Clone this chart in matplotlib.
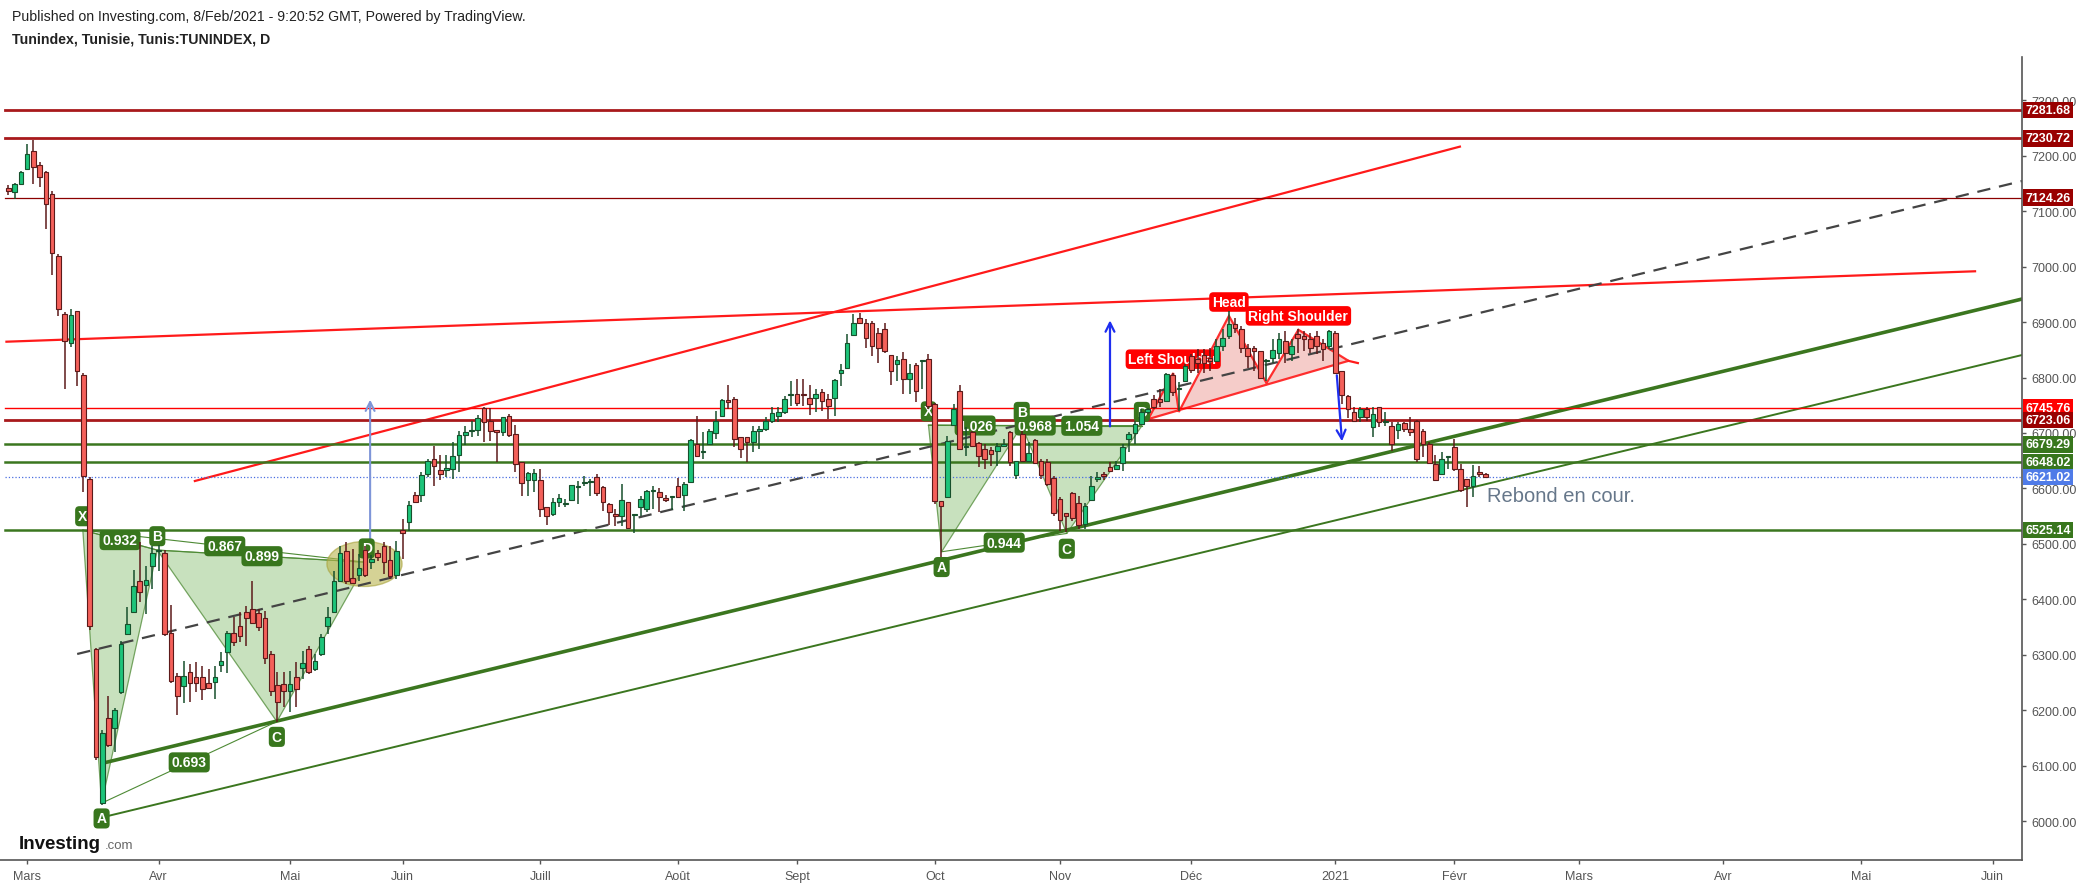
import pandas as pd
import matplotlib
matplotlib.use('Agg')
from matplotlib import pyplot as plt
from matplotlib.patches import Ellipse, Polygon

plt.rcParams['font.family'] = ['Liberation Sans', 'DejaVu Sans']

# bougies journalieres du Tunindex (26 fev 2020 -> 8 fev 2021)
opens = [7142, 7134, 7148, 7176, 7208, 7182, 7170, 7130, 7019, 6915,
         6863, 6919, 6805, 6618, 6311, 6033, 6186, 6168, 6234, 6338,
         6378, 6433, 6427, 6461, 6487, 6483, 6339, 6263, 6245, 6269,
         6260, 6260, 6249, 6251, 6282, 6305, 6339, 6353, 6378, 6383,
         6376, 6366, 6302, 6246, 6248, 6236, 6260, 6276, 6311, 6274,
         6301, 6352, 6378, 6433, 6487, 6438, 6444, 6490, 6467, 6483,
         6497, 6471, 6444, 6525, 6540, 6589, 6589, 6627, 6654, 6634,
         6634, 6636, 6661, 6697, 6704, 6706, 6745, 6721, 6705, 6701,
         6730, 6699, 6647, 6616, 6616, 6616, 6566, 6554, 6575, 6572,
         6579, 6603, 6610, 6611, 6621, 6602, 6572, 6554, 6550, 6575,
         6552, 6566, 6563, 6595, 6594, 6583, 6584, 6604, 6589, 6611,
         6681, 6665, 6681, 6700, 6730, 6759, 6761, 6693, 6693, 6683,
         6704, 6707, 6722, 6731, 6738, 6769, 6771, 6769, 6763, 6763,
         6773, 6761, 6763, 6809, 6817, 6876, 6908, 6898, 6898, 6881,
         6887, 6841, 6824, 6833, 6797, 6822, 6830, 6833, 6752, 6577,
         6584, 6714, 6776, 6674, 6702, 6682, 6672, 6669, 6668, 6677,
         6702, 6625, 6699, 6650, 6688, 6650, 6647, 6619, 6581, 6555,
         6592, 6573, 6536, 6579, 6617, 6626, 6638, 6636, 6646, 6689,
         6700, 6716, 6738, 6762, 6761, 6758, 6804, 6780, 6793, 6838,
         6833, 6841, 6835, 6830, 6857, 6874, 6896, 6887, 6854, 6854,
         6847, 6829, 6836, 6845, 6866, 6842, 6878, 6875, 6869, 6874,
         6862, 6856, 6881, 6812, 6767, 6737, 6728, 6743, 6710, 6746,
         6719, 6713, 6706, 6718, 6707, 6722, 6704, 6680, 6645, 6627,
         6657, 6675, 6636, 6617, 6604, 6630, 6627]
highs = [7146, 7150, 7172, 7220, 7228, 7188, 7172, 7136, 7022, 6918,
         6923, 6919, 6808, 6620, 6313, 6165, 6227, 6205, 6325, 6386,
         6453, 6504, 6461, 6497, 6498, 6490, 6390, 6268, 6290, 6284,
         6287, 6281, 6274, 6281, 6306, 6344, 6368, 6377, 6388, 6434,
         6383, 6380, 6307, 6269, 6269, 6272, 6287, 6308, 6317, 6302,
         6338, 6386, 6452, 6497, 6504, 6491, 6482, 6497, 6480, 6490,
         6504, 6497, 6506, 6545, 6578, 6594, 6629, 6654, 6676, 6661,
         6661, 6683, 6704, 6713, 6722, 6732, 6746, 6745, 6706, 6728,
         6735, 6714, 6647, 6629, 6635, 6635, 6566, 6582, 6590, 6581,
         6607, 6614, 6622, 6617, 6626, 6605, 6574, 6563, 6608, 6576,
         6554, 6587, 6598, 6605, 6600, 6588, 6587, 6619, 6611, 6689,
         6731, 6702, 6707, 6740, 6761, 6786, 6764, 6693, 6693, 6713,
         6713, 6728, 6746, 6746, 6766, 6794, 6797, 6797, 6786, 6780,
         6779, 6770, 6797, 6824, 6878, 6915, 6917, 6905, 6902, 6889,
         6898, 6841, 6838, 6846, 6824, 6827, 6832, 6842, 6754, 6577,
         6695, 6752, 6786, 6710, 6704, 6684, 6680, 6674, 6682, 6690,
         6704, 6650, 6704, 6683, 6690, 6654, 6654, 6623, 6584, 6555,
         6593, 6587, 6574, 6623, 6629, 6629, 6647, 6649, 6680, 6702,
         6722, 6743, 6745, 6768, 6779, 6809, 6809, 6791, 6824, 6842,
         6851, 6851, 6854, 6869, 6887, 6920, 6908, 6893, 6860, 6856,
         6848, 6833, 6869, 6881, 6883, 6869, 6887, 6883, 6881, 6883,
         6869, 6886, 6883, 6812, 6768, 6746, 6746, 6746, 6746, 6746,
         6737, 6719, 6719, 6719, 6728, 6724, 6707, 6684, 6660, 6665,
         6658, 6690, 6644, 6617, 6642, 6641, 6628]
lows = [7128, 7121, 7146, 7174, 7148, 7144, 7068, 6985, 6911, 6780,
        6855, 6784, 6594, 6345, 6110, 6030, 6134, 6125, 6230, 6336,
        6376, 6395, 6374, 6419, 6452, 6335, 6250, 6192, 6213, 6215,
        6234, 6218, 6239, 6221, 6269, 6268, 6317, 6323, 6317, 6356,
        6344, 6284, 6227, 6179, 6206, 6197, 6206, 6257, 6266, 6272,
        6299, 6338, 6377, 6431, 6428, 6428, 6434, 6440, 6455, 6470,
        6446, 6437, 6437, 6473, 6524, 6573, 6576, 6620, 6605, 6616,
        6620, 6618, 6629, 6679, 6692, 6695, 6684, 6686, 6647, 6695,
        6692, 6629, 6586, 6586, 6594, 6548, 6535, 6550, 6566, 6566,
        6578, 6572, 6604, 6586, 6587, 6559, 6534, 6533, 6533, 6527,
        6519, 6551, 6557, 6563, 6558, 6576, 6562, 6582, 6560, 6611,
        6659, 6654, 6680, 6689, 6730, 6744, 6675, 6655, 6647, 6666,
        6671, 6704, 6718, 6719, 6735, 6749, 6749, 6749, 6732, 6737,
        6740, 6725, 6730, 6785, 6815, 6875, 6896, 6854, 6839, 6826,
        6845, 6786, 6794, 6770, 6770, 6755, 6779, 6743, 6572, 6476,
        6583, 6712, 6670, 6659, 6674, 6638, 6635, 6641, 6641, 6677,
        6641, 6617, 6647, 6647, 6644, 6617, 6605, 6551, 6524, 6521,
        6542, 6527, 6527, 6579, 6612, 6616, 6629, 6635, 6632, 6665,
        6680, 6714, 6735, 6743, 6746, 6755, 6767, 6740, 6791, 6809,
        6809, 6809, 6812, 6829, 6848, 6869, 6881, 6845, 6818, 6812,
        6800, 6794, 6827, 6833, 6827, 6830, 6845, 6848, 6845, 6842,
        6830, 6851, 6806, 6752, 6727, 6722, 6720, 6722, 6692, 6710,
        6713, 6668, 6689, 6702, 6695, 6647, 6656, 6644, 6614, 6626,
        6635, 6632, 6593, 6566, 6584, 6620, 6620]
closes = [7136, 7148, 7170, 7202, 7180, 7162, 7112, 7025, 6923, 6865,
          6913, 6811, 6622, 6353, 6116, 6159, 6138, 6201, 6320, 6356,
          6424, 6413, 6435, 6484, 6489, 6338, 6254, 6227, 6263, 6250,
          6249, 6238, 6240, 6261, 6290, 6339, 6324, 6335, 6366, 6358,
          6350, 6294, 6236, 6215, 6236, 6248, 6239, 6285, 6269, 6289,
          6332, 6368, 6434, 6483, 6434, 6429, 6456, 6445, 6473, 6477,
          6467, 6442, 6488, 6519, 6570, 6575, 6625, 6649, 6640, 6627,
          6637, 6658, 6697, 6701, 6705, 6727, 6719, 6704, 6701, 6728,
          6697, 6644, 6610, 6628, 6628, 6563, 6550, 6575, 6582, 6573,
          6606, 6604, 6611, 6613, 6591, 6575, 6557, 6550, 6579, 6528,
          6553, 6581, 6596, 6597, 6584, 6579, 6585, 6584, 6608, 6688,
          6659, 6666, 6703, 6722, 6759, 6755, 6690, 6672, 6683, 6703,
          6707, 6722, 6736, 6738, 6761, 6770, 6754, 6768, 6752, 6770,
          6758, 6748, 6796, 6814, 6863, 6898, 6898, 6871, 6856, 6854,
          6847, 6812, 6832, 6797, 6809, 6776, 6831, 6749, 6578, 6568,
          6686, 6743, 6671, 6675, 6677, 6658, 6654, 6663, 6677, 6681,
          6647, 6649, 6650, 6664, 6646, 6625, 6608, 6555, 6544, 6550,
          6546, 6535, 6568, 6604, 6621, 6623, 6631, 6643, 6674, 6699,
          6716, 6738, 6743, 6746, 6755, 6806, 6773, 6781, 6821, 6814,
          6826, 6826, 6829, 6856, 6872, 6896, 6889, 6854, 6839, 6848,
          6800, 6830, 6849, 6869, 6845, 6856, 6871, 6869, 6853, 6856,
          6851, 6884, 6808, 6768, 6743, 6722, 6743, 6728, 6734, 6719,
          6720, 6680, 6716, 6707, 6701, 6653, 6680, 6646, 6615, 6654,
          6658, 6635, 6597, 6604, 6623, 6626, 6621]

holidays = ['2020-03-20', '2020-04-09', '2020-05-01', '2020-05-25', '2020-05-26',
            '2020-07-31', '2020-08-13', '2020-08-20', '2020-10-15', '2020-10-29',
            '2021-01-01', '2021-01-14']
mois = {1: 'Janv', 2: 'Févr', 3: 'Mars', 4: 'Avr', 5: 'Mai', 6: 'Juin', 7: 'Juill',
        8: 'Août', 9: 'Sept', 10: 'Oct', 11: 'Nov', 12: 'Déc'}

# niveaux horizontaux (prix, couleur, epaisseur, style)
niveaux = [(7281.68, '#A8191C', 2.0, '-'), (7230.72, '#A8191C', 2.0, '-'),
           (7124.26, '#8B0000', 0.9, '-'), (6745.76, '#FF0000', 1.0, '-'),
           (6723.06, '#A8191C', 2.0, '-'), (6679.29, '#3B761F', 1.8, '-'),
           (6648.02, '#3B761F', 1.8, '-'), (6621.02, '#4A6EE0', 0.9, ':'),
           (6525.14, '#3B761F', 1.8, '-')]
etiquettes = [(7281.68, '#990000'), (7230.72, '#990000'), (7124.26, '#990000'),
              (6745.76, '#FF0000'), (6723.06, '#990000'), (6679.29, '#38761D'),
              (6648.02, '#38761D'), (6621.02, '#4F7BE8'), (6525.14, '#38761D')]

# harmoniques XABCD : position en barres et prix
pat1_i = [11.9, 14.9, 23.8, 42.9, 57.25]
pat1_p = [6525, 6033, 6489, 6180, 6467]
pat1_r = ['0.932', '0.693', '0.899', '0.867']
pat2_i = [147.0, 149.1, 161.9, 169.1, 181.1]
pat2_p = [6714, 6486, 6713, 6519, 6713]
pat2_r = ['1.026', '0.944', '1.054', '0.968']

# epaule-tete-epaule
hs_i = [182.1, 186.1, 187.0, 195.0, 201.0, 206.1, 214.1]
hs_p = [6725, 6808, 6738, 6911, 6790, 6886, 6830]

FIN = 321.7

fig = plt.figure(figsize=(20.83, 8.87), dpi=100)
ax = fig.add_axes([0, 1 - 861 / 887, 2022 / 2083, (861 - 58) / 887])
ax.set_xlim(-1.33, FIN)
ax.set_ylim(5930.6, 7377.5)

# lignes de tendance
ax.plot([29.8, 231.9], [6613.5, 7216], color='#FF1A1A', lw=1.6, zorder=2)
ax.plot([-0.3, 314.2], [6864.5, 6991.4], color='#FF1A1A', lw=1.6, zorder=2)
ax.plot([11.0, FIN], [6301.8, 7154], color='#444444', lw=1.6, ls=(0, (6, 4)), zorder=2)
ax.plot([15.2, FIN], [6105.4, 6941.4], color='#3B761F', lw=2.6, zorder=2)
ax.plot([15.2, FIN], [6008, 6840.5], color='#3B761F', lw=1.4, zorder=2)

for prix, col, lw, ls in niveaux:
    ax.plot([-0.5, FIN], [prix, prix], color=col, lw=lw, ls=ls, zorder=2)

boite_verte = dict(boxstyle='round,pad=0.22,rounding_size=0.3', fc='#38761D', ec='none')


def harmonique(xs, ps, ratios):
    ax.add_patch(Polygon(list(zip(xs[:3], ps[:3])), closed=True, fc='#B6D7A8',
                         ec='#4E8A35', lw=0.9, alpha=0.75, zorder=1))
    ax.add_patch(Polygon(list(zip(xs[2:], ps[2:])), closed=True, fc='#B6D7A8',
                         ec='#4E8A35', lw=0.9, alpha=0.75, zorder=1))
    paires = [(0, 2), (1, 3), (2, 4), (0, 4)]
    for (a, b), r in zip(paires, ratios):
        ax.plot([xs[a], xs[b]], [ps[a], ps[b]], color='#4E8A35', lw=0.8, zorder=1.5)
        ax.text((xs[a] + xs[b]) / 2, (ps[a] + ps[b]) / 2, r, color='white',
                fontsize=10, fontweight='bold', ha='center', va='center', zorder=2.5,
                bbox=boite_verte)
    for k, nom in enumerate('XABCD'):
        dy = -11 if nom in 'AC' else 10
        ax.annotate(nom, (xs[k], ps[k]), xytext=(0, dy), textcoords='offset points',
                    color='white', fontsize=10, fontweight='bold', ha='center', va='center',
                    zorder=2.6, bbox=boite_verte)


harmonique(pat1_i, pat1_p, pat1_r)
harmonique(pat2_i, pat2_p, pat2_r)

ax.add_patch(Ellipse((56.9, 6464), 12, 81, fc='#B9B44E', ec='#A8A23A', alpha=0.6, lw=1, zorder=1.6))

ax.add_patch(Polygon(list(zip(hs_i, hs_p)), closed=True, fc='#F4C7C3', ec='#FF1A1A',
                     lw=1.6, alpha=0.9, zorder=1.7))
ax.plot([hs_i[6], hs_i[6] + 1.5], [hs_p[6], hs_p[6] - 4], color='#FF1A1A', lw=1.6, zorder=1.7)
for k, nom in [(1, 'Left Shoulder'), (3, 'Head'), (5, 'Right Shoulder')]:
    ax.annotate(nom, (hs_i[k], hs_p[k]), xytext=(0, 10), textcoords='offset points',
                color='white', fontsize=10, fontweight='semibold', ha='center', va='center',
                zorder=2.5,
                bbox=dict(boxstyle='round,pad=0.2,rounding_size=0.3', fc='#FF0000', ec='none'))

# fleches
ax.annotate('', xy=(57.8, 6765), xytext=(57.8, 6494),
            arrowprops=dict(arrowstyle='->', color='#7E95D8', lw=1.5, mutation_scale=16), zorder=2.4)
ax.annotate('', xy=(176, 6908), xytext=(176, 6707),
            arrowprops=dict(arrowstyle='->', color='#1E2EF0', lw=1.6, mutation_scale=16), zorder=2.4)
ax.annotate('', xy=(213.1, 6680), xytext=(212.2, 6809),
            arrowprops=dict(arrowstyle='->', color='#1E2EF0', lw=1.6, mutation_scale=16), zorder=4)

# bougies
x = list(range(len(closes)))
corps_bas = [min(o, c) for o, c in zip(opens, closes)]
corps_h = [max(abs(c - o), 1.8) for o, c in zip(opens, closes)]
fill = ['#1DC47A' if c >= o else '#F4605A' for o, c in zip(opens, closes)]
bord = ['#17502C' if c >= o else '#5C1A1A' for o, c in zip(opens, closes)]
ax.vlines(x, lows, highs, colors=bord, lw=1.1, zorder=3)
ax.bar(x, corps_h, bottom=corps_bas, width=0.74, color=fill, edgecolor=bord, lw=0.8, zorder=3.1)

ax.text(236.2, 6586.5, 'Rebond en cour.', color='#66778A', fontsize=14.5, ha='left', va='center', zorder=4)

# axe des dates
jours = pd.bdate_range('2020-02-26', '2021-02-08')
jours = jours[~jours.isin(pd.to_datetime(holidays))]
futur = pd.bdate_range('2021-02-09', '2021-06-30')
tous = jours.append(futur)
pos = pd.Series(range(len(tous)), index=tous)
premiers = pos.groupby([tous.year, tous.month]).first().iloc[1:]
tick_pos = list(premiers.values)
tick_lab = [str(a) if m == 1 else mois[m] for a, m in premiers.index]
ax.set_xticks(tick_pos)
ax.set_xticklabels(tick_lab)

ax.yaxis.tick_right()
ax.set_yticks(range(6000, 7400, 100))
ax.set_yticklabels([f'{v:.2f}' for v in range(6000, 7400, 100)])
ax.tick_params(axis='both', colors='#555555', labelcolor='#555555', labelsize=9, length=3, width=1)
ax.tick_params(axis='y', pad=4)
ax.tick_params(axis='x', pad=4)
for s in ['top', 'left']:
    ax.spines[s].set_visible(False)
for s in ['right', 'bottom']:
    ax.spines[s].set_color('#555555')
    ax.spines[s].set_linewidth(1.2)

for prix, col in etiquettes:
    ax.annotate(f'{prix:.2f}', xy=(1, prix), xycoords=ax.get_yaxis_transform(),
                xytext=(2.5, 0), textcoords='offset points', ha='left', va='center',
                color='white', fontsize=9, fontweight='bold', annotation_clip=False, zorder=10,
                bbox=dict(boxstyle='square,pad=0.18', fc=col, ec='none'))

fig.text(12 / 2083, 1 - 17 / 887, 'Published on Investing.com, 8/Feb/2021 - 9:20:52 GMT, Powered by TradingView.',
         fontsize=10.2, color='#222222', va='center')
fig.text(12 / 2083, 1 - 40 / 887, 'Tunindex, Tunisie, Tunis:TUNINDEX, D',
         fontsize=10.2, fontweight='bold', color='#222222', va='center')
fig.text(19 / 2083, 1 - 849 / 887, 'Investing', fontsize=13.5, fontweight='bold', color='#111111', va='baseline')
fig.text(105 / 2083, 1 - 849 / 887, '.com', fontsize=9.5, color='#666666', va='baseline')

fig.savefig('out.png', dpi=100)
